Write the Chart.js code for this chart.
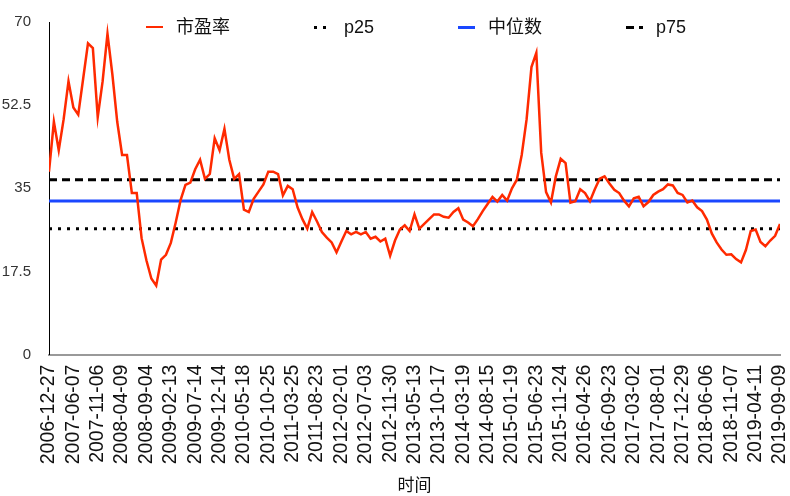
<!DOCTYPE html>
<html>
<head>
<meta charset="utf-8">
<script src="https://cdn.jsdelivr.net/npm/chart.js@4"></script>
<style>
  body { margin: 0; background: #fff; }
  #wrap { position: relative; width: 790px; height: 496px; }
  #legend {
    position: absolute; top: 16px; left: 146px;
    display: flex; align-items: center; gap: 84px;
    font: 18px 'Liberation Sans', Arial, 'Noto Sans CJK SC', sans-serif;
    color: #111; line-height: 22px;
  }
  #legend .item { display: flex; align-items: center; }
  #legend .mark { display: inline-block; width: 17px; margin-right: 13px; }
</style>
</head>
<body>
<div id="wrap">
  <canvas id="peChart"></canvas>
  <div id="legend"></div>
</div>
<script>
'use strict';

// x tick labels (one every ~107 trading days)
let dateLabels = ['2006-12-27', '2007-06-07', '2007-11-06', '2008-04-09', '2008-09-04',
  '2009-02-13', '2009-07-14', '2009-12-14', '2010-05-18', '2010-10-25', '2011-03-25',
  '2011-08-23', '2012-02-01', '2012-07-03', '2012-11-30', '2013-05-13', '2013-10-17',
  '2014-03-19', '2014-08-15', '2015-01-19', '2015-06-23', '2015-11-24', '2016-04-26',
  '2016-09-23', '2017-03-02', '2017-08-01', '2017-12-29', '2018-06-06', '2018-11-07',
  '2019-04-11', '2019-09-09'];

let yTicks = [0, 17.5, 35, 52.5, 70];

// PE, 5 readings per tick interval
let pointsPerLabel = 5;
let pe = [
  38.5, 49, 43, 49.5, 57.5, 52, 50.5, 58, 65.5, 64.5,
  50, 57.5, 67.5, 59, 49, 42, 42, 34, 34, 24.5,
  19.8, 16, 14.5, 20, 21, 23.5, 27.8, 32.5, 35.7, 36.2,
  39, 41, 37, 38, 45.5, 43, 47.5, 41, 37, 38,
  30.5, 30, 32.8, 34.3, 35.8, 38.5, 38.5, 38, 33.5, 35.5,
  34.8, 31, 28.5, 26.5, 30, 28, 25.8, 24.6, 23.6, 21.5,
  23.8, 26, 25.3, 25.8, 25.3, 25.8, 24.4, 24.8, 23.8, 24.4,
  20.8, 24, 26.3, 27.2, 26, 29.5, 26.5, 27.5, 28.5, 29.5,
  29.5, 29, 28.8, 30, 30.8, 28.4, 27.8, 27, 28.5, 30.2,
  31.7, 33.2, 32.2, 33.6, 32.4, 35, 36.8, 42, 49.5, 60.5,
  63.5, 42.5, 34.2, 32, 37.5, 41.2, 40.3, 32, 32.3, 34.8,
  34, 32.3, 34.8, 37, 37.5, 36, 34.7, 34, 32.4, 31.2,
  32.9, 33.2, 31.2, 32.1, 33.6, 34.3, 34.8, 35.8, 35.6, 34,
  33.6, 32, 32.4, 31, 30.2, 28.4, 25.5, 23.6, 22.1, 21,
  21.1, 20.1, 19.4, 22, 26, 26.3, 23.7, 22.8, 24, 25,
  27.5
];

let p25 = 26.5;
let median = 32.3;
let p75 = 36.8;

Chart.defaults.font.family = "'Liberation Sans', Arial, 'Noto Sans CJK SC', sans-serif";
Chart.defaults.color = '#222';

function flatLine(value) {
  return [{ x: 0, y: value }, { x: dateLabels.length - 1, y: value }];
}

// legend as html so it can sit on top of the plot with wide gaps
let htmlLegend = {
  id: 'htmlLegend',
  afterUpdate(chart) {
    let box = document.getElementById('legend');
    box.innerHTML = '';
    let items = chart.options.plugins.legend.labels.generateLabels(chart);
    items.forEach((item) => {
      let row = document.createElement('div');
      row.className = 'item';
      let mark = document.createElement('span');
      mark.className = 'mark';
      let dash = item.lineDash || [];
      if (dash.length) {
        mark.style.background = `repeating-linear-gradient(to right, ${item.strokeStyle} 0 ${dash[0]}px, transparent ${dash[0]}px ${dash[0] + dash[1]}px)`;
      } else {
        mark.style.background = item.strokeStyle;
      }
      mark.style.height = Math.min(item.lineWidth, 3) + 'px';
      let text = document.createElement('span');
      text.textContent = item.text;
      row.appendChild(mark);
      row.appendChild(text);
      box.appendChild(row);
    });
  }
};

let ctx = document.getElementById('peChart');
new Chart(ctx, {
  type: 'line',
  data: {
    datasets: [
      {
        label: '市盈率',
        data: pe.map((v, i) => ({ x: i / pointsPerLabel, y: v })),
        borderColor: '#ff2a00',
        backgroundColor: '#ff2a00',
        borderWidth: 2.5,
        pointRadius: 0,
        tension: 0
      },
      {
        label: 'p25',
        data: flatLine(p25),
        borderColor: '#000',
        backgroundColor: '#000',
        borderWidth: 3,
        borderDash: [3, 6],
        pointRadius: 0
      },
      {
        label: '中位数',
        data: flatLine(median),
        borderColor: '#1a47ff',
        backgroundColor: '#1a47ff',
        borderWidth: 3,
        pointRadius: 0
      },
      {
        label: 'p75',
        data: flatLine(p75),
        borderColor: '#000',
        backgroundColor: '#000',
        borderWidth: 3,
        borderDash: [8, 5],
        pointRadius: 0
      }
    ]
  },
  options: {
    responsive: true,
    maintainAspectRatio: false,
    animation: false,
    layout: { padding: { top: 22, left: 2, right: 0, bottom: 0 } },
    plugins: {
      tooltip: { enabled: false },
      legend: { display: false }
    },
    scales: {
      x: {
        type: 'linear',
        min: 0,
        max: dateLabels.length - 1,
        grid: { display: false, drawTicks: false },
        border: { color: '#999', width: 2 },
        afterFit: (axis) => {
          axis.paddingLeft = 0;
          axis.paddingRight = 10;
        },
        ticks: {
          stepSize: 1,
          autoSkip: false,
          minRotation: 90,
          maxRotation: 90,
          padding: 10,
          color: '#111',
          font: { size: 19.5 },
          callback: (value) => dateLabels[value]
        },
        title: {
          display: true,
          text: '时间',
          color: '#111',
          font: { size: 17, lineHeight: 1.1 },
          padding: { top: 3, bottom: 0 }
        }
      },
      y: {
        min: 0,
        max: 70,
        grid: { display: false, drawTicks: false },
        border: { color: '#000', width: 1 },
        afterBuildTicks: (axis) => {
          axis.ticks = yTicks.map((v) => ({ value: v }));
        },
        afterFit: (axis) => {
          axis.width = 47;
          axis.paddingTop = 0;
          axis.paddingBottom = 0;
        },
        ticks: {
          padding: 18,
          color: '#333',
          font: { size: 15 }
        }
      }
    }
  },
  plugins: [htmlLegend]
});
</script>
</body>
</html>
